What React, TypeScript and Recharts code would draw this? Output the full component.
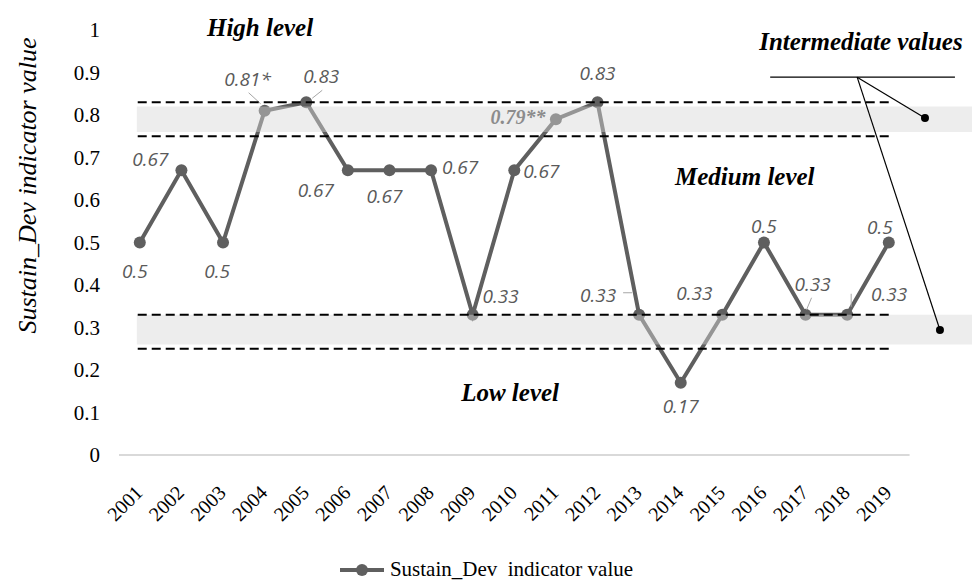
import React from 'react';
import {
  LineChart,
  Line,
  XAxis,
  YAxis,
  ReferenceArea,
  ReferenceLine,
  ReferenceDot,
  LabelList,
  Legend,
} from 'recharts';

// ---------- data ----------
const years = [2001, 2002, 2003, 2004, 2005, 2006, 2007, 2008, 2009, 2010, 2011, 2012, 2013, 2014, 2015, 2016, 2017, 2018, 2019];
const values = [0.5, 0.67, 0.5, 0.81, 0.83, 0.67, 0.67, 0.67, 0.33, 0.67, 0.79, 0.83, 0.33, 0.17, 0.33, 0.5, 0.33, 0.33, 0.5];
const valueLabels = ['0.5', '0.67', '0.5', '0.81*', '0.83', '0.67', '0.67', '0.67', '0.33', '0.67', '0.79**', '0.83', '0.33', '0.17', '0.33', '0.5', '0.33', '0.33', '0.5'];
const yTicks = [0, 0.1, 0.2, 0.3, 0.4, 0.5, 0.6, 0.7, 0.8, 0.9, 1];
const seriesName = 'Sustain_Dev\u00a0 indicator value';
const yAxisTitle = 'Sustain_Dev indicator value';

// threshold limits (dashed) and intermediate bands (grey)
const upperLimits = [0.83, 0.75];
const lowerLimits = [0.33, 0.25];
const upperBand = [0.76, 0.82];
const lowerBand = [0.26, 0.33];

// annotations
const levelTexts = [
  { text: 'High level', x: 2003.89, y: 1.007 },
  { text: 'Medium level', x: 2015.54, y: 0.656 },
  { text: 'Low level', x: 2009.9, y: 0.146 },
  { text: 'Intermediate values', x: 2018.33, y: 0.972 },
];
const intermediateMarkers = [
  { x: 2019.87, y: 0.793 },
  { x: 2020.23, y: 0.294 },
];
const calloutBar = { x1: 2016.15, x2: 2020.59, y: 0.889, branchX: 2018.24 };

// label placement (pixel offsets from the point) — style only
const labelOffsets: [number, number][] = [
  [-5, 28], [-31, -11], [-6, 28], [-17, -32], [15, -26], [-32, 20], [-5, 26], [29, -3], [28, -19], [27, 1],
  [-38, -2], [0, -29], [-41, -20], [0, 23], [-28, -22], [0, -17], [7, -31], [42, -21], [-9, -16],
];
const leaders: Record<number, [number, number, number, number]> = {
  3: [-16, -18, -4, -7],
  4: [16, -12, 6, -4],
  12: [-16, -22, -7, -22],
  16: [6, -17, 1, -5],
  17: [4, -21, 4, -8],
};

const data = years.map((year, i) => ({ year, value: values[i], label: valueLabels[i] }));

const SERIF = '"Liberation Serif", "Times New Roman", serif';
const SANS = '"Open Sans", "Liberation Sans", sans-serif';
const LINE_COLOR = '#5f5f5f';
const X_MIN = 2000.5;
const X_MAX = 2021;
const W = 973;
const H = 582;
const MARGIN = { top: 30, right: 1, bottom: 0, left: 0 };

const XTick = (props: any) => {
  const { x, y, payload } = props;
  const ax = x + 4;
  const ay = y + 31;
  return (
    <text x={ax} y={ay} transform={`rotate(-45, ${ax}, ${ay})`} textAnchor="end" fontFamily={SERIF} fontSize={20} fill="#000">
      {payload.value}
    </text>
  );
};

const YTick = (props: any) => {
  const { x, y, payload } = props;
  return (
    <text x={x} y={y} dy={7} textAnchor="end" fontFamily={SERIF} fontSize={21} fill="#000">
      {String(payload.value)}
    </text>
  );
};

const ValueLabel = (props: any) => {
  const { x, y, index, value } = props;
  const [dx, dy] = labelOffsets[index] || [0, -20];
  const special = index === 10;
  const ld = leaders[index];
  return (
    <g>
      {ld && (
        <line x1={x + ld[0]} y1={y + ld[1]} x2={x + ld[2]} y2={y + ld[3]} stroke="#a6a6a6" strokeWidth={1} />
      )}
      <text
        x={x + dx}
        y={y + dy}
        textAnchor="middle"
        dominantBaseline="central"
        fontFamily={special ? SERIF : SANS}
        fontStyle="italic"
        fontWeight={special ? 'bold' : 'normal'}
        fontSize={special ? 20 : 19}
        fill={special ? '#4f4f4f' : '#5a5a5a'}
      >
        {value}
      </text>
    </g>
  );
};

const LegendContent = () => (
  <div style={{ display: 'flex', justifyContent: 'center', alignItems: 'center', height: 30, paddingTop: 5, boxSizing: 'border-box' }}>
    <svg width={46} height={16} style={{ marginRight: 5 }}>
      <line x1={1} y1={8} x2={45} y2={8} stroke={LINE_COLOR} strokeWidth={4} />
      <circle cx={23} cy={8} r={6} fill={LINE_COLOR} />
    </svg>
    <span style={{ fontFamily: SERIF, fontSize: 21, color: '#000', whiteSpace: 'pre' }}>{seriesName}</span>
  </div>
);

const YTitle = (props: any) => {
  const vb = props.viewBox || { x: 0, y: 0, width: 0, height: 0 };
  const cx = 27;
  const cy = vb.y + vb.height / 2 - 57;
  return (
    <text
      x={cx}
      y={cy}
      transform={`rotate(-90, ${cx}, ${cy})`}
      textAnchor="middle"
      dominantBaseline="central"
      fontFamily={SERIF}
      fontStyle="italic"
      fontSize={26}
      fill="#000"
    >
      {yAxisTitle}
    </text>
  );
};

const levelLabel = (text: string) => (props: any) => {
  const vb = props.viewBox || {};
  const cx = (vb.x ?? 0) + (vb.width ?? 0) / 2;
  const cy = (vb.y ?? 0) + (vb.height ?? 0) / 2;
  return (
    <text x={cx} y={cy} textAnchor="middle" dominantBaseline="central" fontFamily={SERIF} fontStyle="italic" fontWeight="bold" fontSize={25} fill="#000">
      {text}
    </text>
  );
};

export default function App() {
  return (
    <div style={{ position: 'absolute', left: 0, top: 0, width: W, height: H, background: '#fff' }}>
      {/* base chart: axes, series, labels, legend */}
      <div style={{ position: 'absolute', left: 0, top: 0 }}>
        <LineChart width={W} height={H} data={data} margin={MARGIN}>
          <XAxis
            type="number"
            dataKey="year"
            domain={[X_MIN, X_MAX]}
            ticks={years}
            allowDataOverflow
            axisLine={false}
            tickLine={false}
            interval={0}
            height={97}
            tick={<XTick />}
          />
          <YAxis
            type="number"
            domain={[0, 1]}
            ticks={yTicks}
            axisLine={false}
            tickLine={false}
            tickSize={0}
            tickMargin={19}
            width={119}
            interval={0}
            tick={<YTick />}
            label={<YTitle />}
          />
          <Legend verticalAlign="bottom" align="center" height={30} content={<LegendContent />} />
          <ReferenceLine
            segment={[{ x: X_MIN, y: 0 }, { x: 2019.5, y: 0 }]}
            stroke="#d9d9d9"
            strokeWidth={2}
            ifOverflow="visible"
          />
          <Line
            dataKey="value"
            name={seriesName}
            stroke={LINE_COLOR}
            strokeWidth={4}
            dot={{ r: 6, fill: LINE_COLOR, stroke: LINE_COLOR, strokeWidth: 0 }}
            activeDot={false}
            isAnimationActive={false}
          >
            <LabelList dataKey="label" content={<ValueLabel />} />
          </Line>
        </LineChart>
      </div>
      {/* overlay chart: translucent bands, thresholds and annotations drawn above the series */}
      <div style={{ position: 'absolute', left: 0, top: 0, pointerEvents: 'none' }}>
        <LineChart width={W} height={H} data={data} margin={{ ...MARGIN, bottom: 30 }}>
          <XAxis
            type="number"
            dataKey="year"
            domain={[X_MIN, X_MAX]}
            allowDataOverflow
            axisLine={false}
            tickLine={false}
            tick={false}
            height={97}
          />
          <YAxis type="number" domain={[0, 1]} axisLine={false} tickLine={false} tick={false} width={119} />
          <Line dataKey="value" stroke="none" dot={false} activeDot={false} legendType="none" isAnimationActive={false} />
          <ReferenceArea x1={2000.93} x2={X_MAX} y1={upperBand[0]} y2={upperBand[1]} fill="#d7d7d7" fillOpacity={0.45} stroke="none" ifOverflow="visible" />
          <ReferenceArea x1={2000.93} x2={X_MAX} y1={lowerBand[0]} y2={lowerBand[1]} fill="#d7d7d7" fillOpacity={0.45} stroke="none" ifOverflow="visible" />
          {[...upperLimits, ...lowerLimits].map((v, i) => (
            <ReferenceLine
              key={`lim-${i}`}
              segment={[{ x: 2000.95, y: v }, { x: 2019.03, y: v }]}
              stroke="#000"
              strokeWidth={2}
              strokeDasharray="9 5"
              ifOverflow="visible"
            />
          ))}
          <ReferenceLine
            segment={[{ x: calloutBar.x1, y: calloutBar.y }, { x: calloutBar.x2, y: calloutBar.y }]}
            stroke="#000"
            strokeWidth={1.2}
            ifOverflow="visible"
          />
          {intermediateMarkers.map((m, i) => (
            <ReferenceLine
              key={`cl-${i}`}
              segment={[{ x: calloutBar.branchX, y: calloutBar.y }, { x: m.x, y: m.y }]}
              stroke="#000"
              strokeWidth={1.2}
              ifOverflow="visible"
            />
          ))}
          {intermediateMarkers.map((m, i) => (
            <ReferenceDot key={`md-${i}`} x={m.x} y={m.y} r={4} fill="#000" stroke="none" ifOverflow="visible" />
          ))}
          {levelTexts.map((t, i) => (
            <ReferenceDot key={`lt-${i}`} x={t.x} y={t.y} r={0} fill="none" stroke="none" ifOverflow="visible" label={levelLabel(t.text)} />
          ))}
        </LineChart>
      </div>
    </div>
  );
}
